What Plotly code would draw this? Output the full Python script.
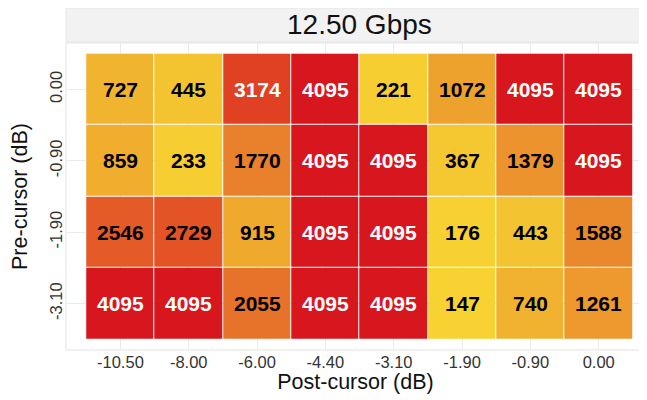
import plotly.graph_objects as go

post_cursor = ["-10.50", "-8.00", "-6.00", "-4.40", "-3.10", "-1.90", "-0.90", "0.00"]
pre_cursor = ["0.00", "-0.90", "-1.90", "-3.10"]
values = [
    [727, 445, 3174, 4095, 221, 1072, 4095, 4095],
    [859, 233, 1770, 4095, 4095, 367, 1379, 4095],
    [2546, 2729, 915, 4095, 4095, 176, 443, 1588],
    [4095, 4095, 2055, 4095, 4095, 147, 740, 1261],
]
title = "12.50 Gbps"

colorscale = [
    [0.0, "#F7D232"],
    [0.2, "#EFA92E"],
    [0.4, "#E9822C"],
    [0.6, "#E45C27"],
    [0.8, "#DF3C22"],
    [1.0, "#D8161E"],
]

FONT = "Liberation Sans, Arial, sans-serif"

fig = go.Figure()
fig.add_trace(go.Heatmap(
    z=values,
    x=list(range(len(post_cursor))),
    y=list(range(len(pre_cursor))),
    colorscale=colorscale,
    showscale=False,
    xgap=1, ygap=1,
    hoverinfo="z",
))

annotations = []
for i, row in enumerate(values):
    for j, v in enumerate(row):
        annotations.append(dict(
            x=j, y=i, xref="x", yref="y", text=f"<b>{v}</b>", showarrow=False,
            font=dict(family=FONT, size=21, color="white" if v > 3000 else "black"),
        ))

PH = 307
# strip title
annotations.append(dict(
    x=3.5, y=1.0 + 18 / PH, xref="x", yref="paper", text=title, showarrow=False,
    font=dict(family=FONT, size=28, color="#111111"), yanchor="middle",
))

fig.update_layout(
    width=647, height=400,
    margin=dict(l=58, r=10, t=35, b=58),
    paper_bgcolor="white", plot_bgcolor="white",
    annotations=annotations,
    shapes=[
        dict(type="rect", xref="paper", yref="paper", x0=0, x1=1.0,
             y0=1.0 + 1 / PH, y1=1.0 + 35 / PH,
             fillcolor="#F2F2F2", line=dict(color="#E6E6E6", width=1), layer="below"),
        dict(type="rect", xref="paper", yref="paper", x0=0, x1=1, y0=0, y1=1,
             line=dict(color="#E3E3E3", width=1), layer="below"),
    ],
    xaxis=dict(
        tickmode="array", tickvals=list(range(len(post_cursor))), ticktext=post_cursor,
        range=[-0.5 - 20 / 67.5, 7.5 + 12 / 67.5],
        showgrid=True, gridcolor="#EBEBEB", gridwidth=1, zeroline=False,
        automargin=False,
        ticks="", ticklen=0, tickfont=dict(family=FONT, size=16.5, color="#333333"),
        title=dict(text="Post-cursor (dB)", font=dict(family=FONT, size=21.5, color="#111111"), standoff=4),
    ),
    yaxis=dict(
        tickmode="array", tickvals=list(range(len(pre_cursor))), ticktext=pre_cursor,
        range=[3.5 + 0.15, -0.5 - 0.15],
        showgrid=True, gridcolor="#EBEBEB", gridwidth=1, zeroline=False,
        automargin=False,
        ticks="", ticklen=0, tickangle=-90, tickfont=dict(family=FONT, size=16.5, color="#333333"),
        title=dict(text="Pre-cursor (dB)", font=dict(family=FONT, size=21.5, color="#111111"), standoff=14),
    ),
)

fig.write_html("out.html")
